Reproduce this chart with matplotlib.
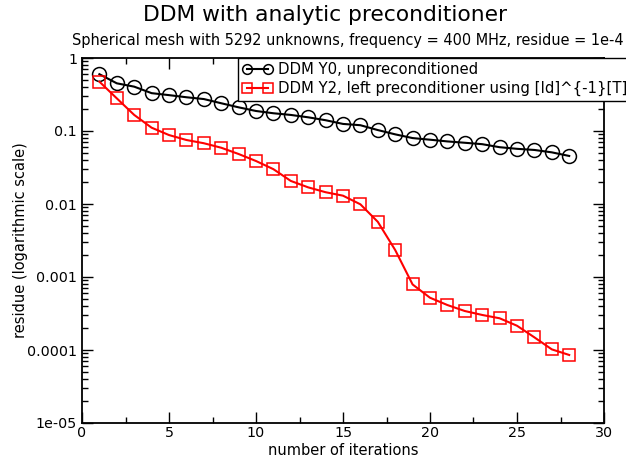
import numpy as np
import matplotlib
matplotlib.use("Agg")
import matplotlib.pyplot as plt
from matplotlib.ticker import LogLocator, FixedLocator, NullFormatter

# --- data ---
iterations = list(range(1, 29))
res_y0 = [0.60, 0.45, 0.405, 0.33, 0.31, 0.29, 0.274, 0.24, 0.211, 0.188,
          0.175, 0.166, 0.154, 0.1405, 0.125, 0.12, 0.103, 0.090, 0.080, 0.076,
          0.072, 0.069, 0.066, 0.060, 0.057, 0.055, 0.051, 0.0455]
res_y2 = [0.474, 0.28, 0.166, 0.111, 0.088, 0.0753, 0.068, 0.059, 0.0484, 0.0388,
          0.030, 0.0207, 0.0169, 0.0145, 0.013, 0.0099, 0.0057, 0.00234, 0.00079, 0.00052,
          0.000413, 0.000342, 0.000302, 0.000272, 0.000215, 0.000149, 0.000102, 0.0000855]
label_y0 = "DDM Y0, unpreconditioned"
label_y2 = "DDM Y2, left preconditioner using [Id]^{-1}[T]"
ytick_vals = [1e-5, 1e-4, 1e-3, 1e-2, 1e-1, 1]
ytick_labels = ["1e-05", "0.0001", "0.001", "0.01", "0.1", "1"]

plt.rcParams["font.family"] = "DejaVu Sans"

fig = plt.figure(figsize=(6.26, 4.58), dpi=100)
ax = fig.add_axes([82/626, 1 - 423/458, (604 - 82)/626, (423 - 58)/458])

ax.plot(iterations, res_y0, color="black", lw=1.5, marker="o", ms=10,
        mfc="none", mec="black", mew=1.1, label=label_y0)
ax.plot(iterations, res_y2, color="red", lw=1.5, marker="s", ms=9,
        mfc="none", mec="red", mew=1.1, label=label_y2)

ax.set_yscale("log")
ax.set_xlim(0, 30)
ax.set_ylim(1e-5, 1)
ax.set_yticks(ytick_vals)
ax.set_yticklabels(ytick_labels)
ax.yaxis.set_minor_locator(LogLocator(base=10, subs=np.arange(2, 10)))
ax.yaxis.set_minor_formatter(NullFormatter())
ax.set_xticks(range(0, 31, 5))
ax.xaxis.set_minor_locator(FixedLocator(np.arange(2.5, 30, 5)))

ax.tick_params(which="both", direction="in", top=True, right=True, labelsize=10.3)
ax.tick_params(which="major", length=8, width=1)
ax.tick_params(which="minor", length=4, width=1)
ax.tick_params(axis="x", pad=2)
for s in ax.spines.values():
    s.set_linewidth(1.3)

ax.set_xlabel("number of iterations", fontsize=10.5, labelpad=2)
ax.set_ylabel("residue (logarithmic scale)", fontsize=10.5)
ax.yaxis.set_label_coords(-0.103, 0.5)

fig.text(325/626, 1 - 15/458, "DDM with analytic preconditioner",
         fontsize=15.7, ha="center", va="center")
fig.text(348/626, 1 - 40/458,
         "Spherical mesh with 5292 unknowns, frequency = 400 MHz, residue = 1e-4",
         fontsize=10.45, ha="center", va="center")

leg = fig.legend(loc="upper left", bbox_to_anchor=(238/626, 1 - 58/458),
                 fontsize=10.7, numpoints=2, handlelength=2.0, handletextpad=0.4,
                 borderaxespad=0, borderpad=0.3, labelspacing=0.25,
                 fancybox=False, framealpha=1, edgecolor="black")
leg.get_frame().set_linewidth(1.0)
for h in leg.legend_handles:
    h.set_markersize(7)

fig.savefig("out.png", dpi=100)
